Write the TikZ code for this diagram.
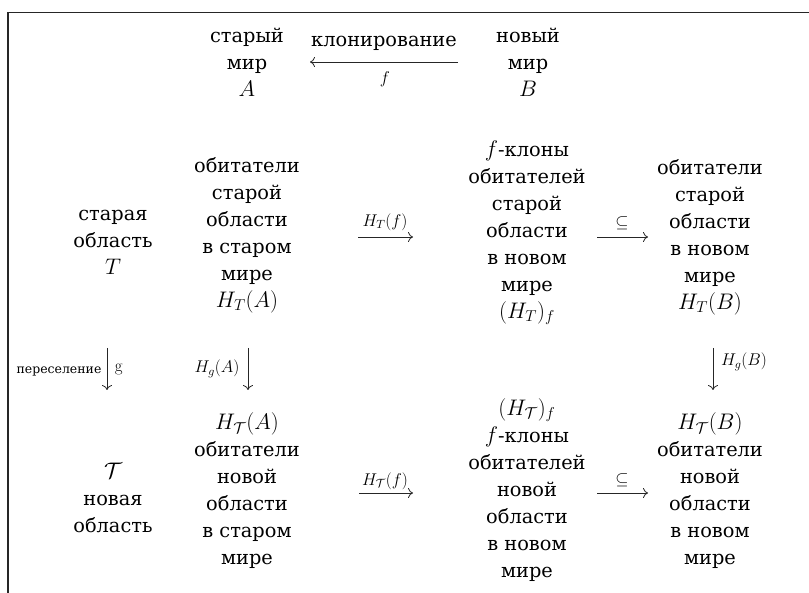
\documentclass[tikz,border=0pt]{standalone}
\usepackage{fix-cm}
\usepackage[no-math]{fontspec}
\setmainfont{DejaVu Serif}[Scale=0.86]
\newfontfamily\cyrfont{DejaVu Serif}[Scale=0.86]
\usetikzlibrary{arrows.meta}
\begin{document}
\begin{tikzpicture}[x=1pt,y=-1pt,
  txt/.style={font=\cyrfont\fontsize{22.5}{27}\selectfont, align=center, inner sep=0pt},
  lbl/.style={font=\cyrfont\fontsize{14.5}{18}\selectfont, inner sep=0pt},
  mlbl/.style={font=\fontsize{17}{19}\selectfont, inner sep=0pt},
  arr/.style={-{Computer Modern Rightarrow[length=5pt,width=10pt]}, line width=0.8pt, black!85},
  frame/.style={line width=1.8pt, black!85}]
\useasboundingbox (0,0) rectangle (809,593);
\draw[frame] (809,12.5) -- (8,12.5) -- (8,593);

\node[txt] (A) at (247,62) {старый\\мир\\$A$};
\node[txt] (B) at (528,62) {новый\\мир\\$B$};
\node[txt] (clon) at (384,43) {клонирование};
\node[mlbl] (flab) at (385,79) {$f$};

\node[txt] (T) at (113,242) {старая\\область\\$T$};
\node[txt] (HTA) at (247,235) {обитатели\\старой\\области\\в старом\\мире\\$H_T(A)$};
\node[txt] (cT) at (527,233) {$f$-клоны\\обитателей\\старой\\области\\в новом\\мире\\$(H_T)_f$};
\node[txt] (HTB) at (710,237) {обитатели\\старой\\области\\в новом\\мире\\$H_T(B)$};

\node[txt] (nT) at (113,498) {$\mathcal{T}$\\новая\\область};
\node[txt] (HnA) at (247,491) {$H_{\mathcal{T}}(A)$\\обитатели\\новой\\области\\в старом\\мире};
\node[txt] (cnT) at (527,490) {$(H_{\mathcal{T}})_f$\\$f$-клоны\\обитателей\\новой\\области\\в новом\\мире};
\node[txt] (HnB) at (710,491) {$H_{\mathcal{T}}(B)$\\обитатели\\новой\\области\\в новом\\мире};

\node[mlbl] (lHTf) at (385,222) {$H_T(f)$};
\node[mlbl] (lsub1) at (622,223) {$\subseteq$};
\node[mlbl] (lHnf) at (385,481) {$H_{\mathcal{T}}(f)$};
\node[mlbl] (lsub2) at (622,480) {$\subseteq$};
\node[lbl] (lpere) at (59,371) {переселение};
\node[mlbl] (lg) at (119,369) {$\mathrm{g}$};
\node[mlbl] (lHgA) at (217,369) {$H_g(A)$};
\node[mlbl] (lHgB) at (744,362) {$H_g(B)$};

\draw[arr] (B) ++(-70,0) -- ++(-148,0);
\draw[arr] (HTA) ++(111,2) -- ++(55,0);
\draw[arr] (HTB) ++(-113,0) -- ++(51,0);
\draw[arr] (HnA) ++(112,2) -- ++(54,0);
\draw[arr] (HnB) ++(-113,2) -- ++(51,0);
\draw[arr] (T) ++(-6,106) -- ++(0,42);
\draw[arr] (HTA) ++(1,113) -- ++(0,42);
\draw[arr] (HTB) ++(3,111) -- ++(0,42);
\end{tikzpicture}
\end{document}
